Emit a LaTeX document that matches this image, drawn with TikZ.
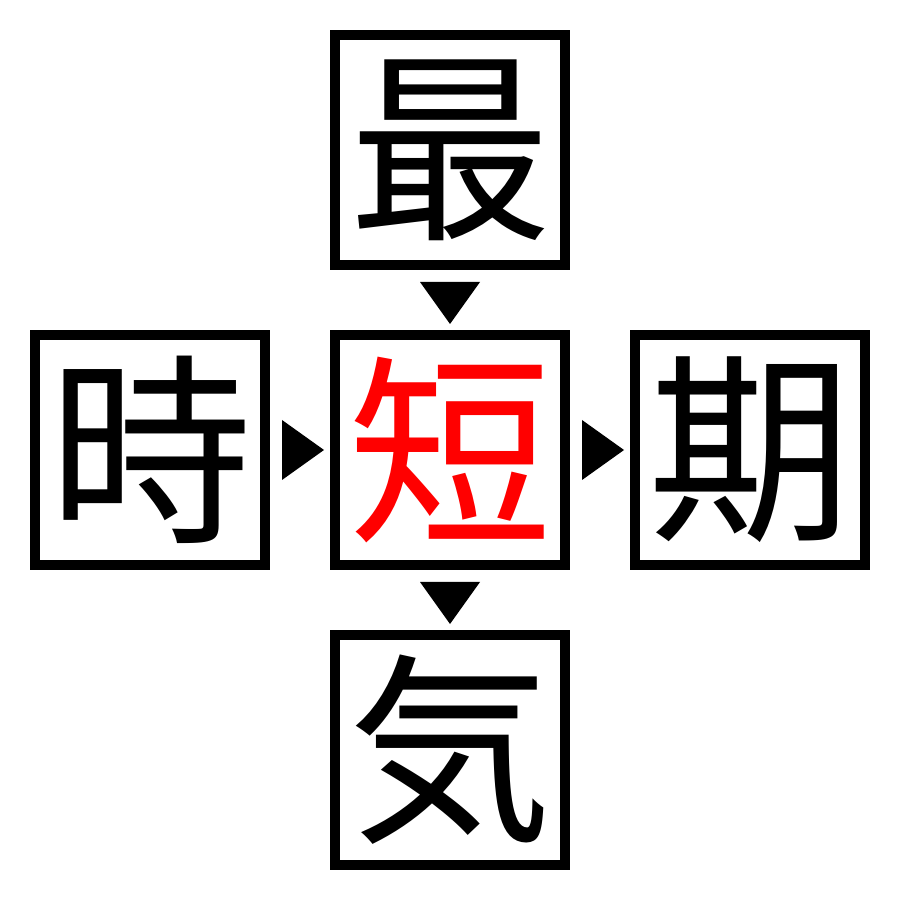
\documentclass[tikz,border=0pt]{standalone}
\usepackage{fontspec}
\newfontfamily\cjk{Noto Sans CJK JP}
\usepackage{tikz}
\usetikzlibrary{positioning, calc}

\begin{document}
\begin{tikzpicture}[
    kanji/.style={draw, line width=0.1cm, minimum size=2.3cm, inner sep=0pt,
      font=\cjk\fontsize{58}{58}\selectfont}]
  \useasboundingbox (0,0) rectangle (9,9);
  % Boxes
  \node[kanji] (tan) at (4.5,4.5) {\textcolor{red}{短}};
  \node[kanji, above=0.6cm of tan] (sai) {最};
  \node[kanji, below=0.6cm of tan] (ki) {気};
  \node[kanji, left=0.6cm of tan] (ji) {時};
  \node[kanji, right=0.6cm of tan] (ki2) {期};
  % Arrows
  \foreach \a/\b/\r in {sai/tan/-90, tan/ki/-90, ji/tan/0, tan/ki2/0}
      \fill[shift={($(\a)!0.5!(\b)$)}, rotate=\r] (-0.18,-0.3) -- (-0.18,0.3) -- (0.24,0) -- cycle;
\end{tikzpicture}
\end{document}
